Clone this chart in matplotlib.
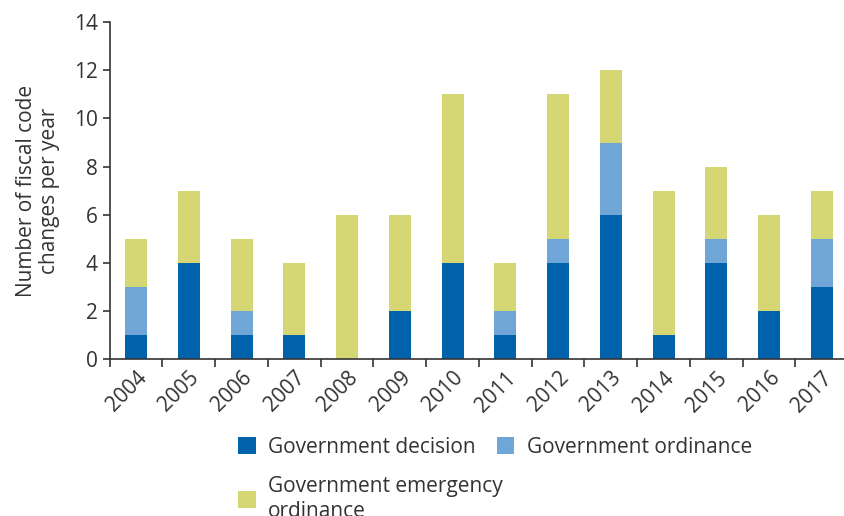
import matplotlib.pyplot as plt
import numpy as np

years = ['2004', '2005', '2006', '2007', '2008', '2009', '2010',
         '2011', '2012', '2013', '2014', '2015', '2016', '2017']
decision = [1, 4, 1, 1, 0, 2, 4, 1, 4, 6, 1, 4, 2, 3]
ordinance = [2, 0, 1, 0, 0, 0, 0, 1, 1, 3, 0, 1, 0, 2]
emergency = [2, 3, 3, 3, 6, 4, 7, 2, 6, 3, 6, 3, 4, 2]

plt.rcParams['font.family'] = ['Open Sans', 'DejaVu Sans']
text_col = '#333333'
fs = 15

fig = plt.figure(figsize=(8.44, 5.16), dpi=100)
ax = fig.add_axes([0.130, 0.304, 0.875, 0.653])

x = np.arange(len(years))
d = np.array(decision)
o = np.array(ordinance)
e = np.array(emergency)
w = 0.42
b1 = ax.bar(x, d, w, color='#0062AB', label='Government decision')
b2 = ax.bar(x, o, w, bottom=d, color='#70A5D8', label='Government ordinance')
b3 = ax.bar(x, e, w, bottom=d + o, color='#D4D774', label='Government emergency\nordinance')

ax.set_xlim(-0.5, 13.5)
ax.set_ylim(0, 14)
ax.set_yticks(range(0, 15, 2))
ax.set_xticks(np.arange(-0.5, 14, 1), minor=False)
ax.set_xticklabels([])
ax.set_xticks(x, minor=True)
ax.set_xticklabels(years, minor=True, rotation=45, ha='right', rotation_mode='anchor')
ax.tick_params(axis='x', which='minor', length=0, labelsize=fs, labelcolor=text_col, pad=6)
ax.tick_params(axis='x', which='major', length=6, color=text_col, width=1.2)
ax.tick_params(axis='y', length=5, color=text_col, width=1.2, labelsize=fs, labelcolor=text_col)

for s in ['top', 'right']:
    ax.spines[s].set_visible(False)
for s in ['left', 'bottom']:
    ax.spines[s].set_color(text_col)
    ax.spines[s].set_linewidth(1.2)

ax.set_ylabel('Number of fiscal code\nchanges per year', fontsize=fs, color=text_col,
              labelpad=10, linespacing=1.1)

leg_kw = dict(loc='upper left', frameon=False, fontsize=fs, handlelength=0.85,
              handleheight=0.85, handletextpad=0.6, columnspacing=1.0,
              labelcolor=text_col, borderaxespad=0)
fig.legend([b1, b2], [b1.get_label(), b2.get_label()], ncol=2,
           bbox_to_anchor=(0.272, 0.17), **leg_kw)
fig.legend([b3], [b3.get_label()], bbox_to_anchor=(0.272, 0.093), **leg_kw)

plt.savefig('out.png', dpi=100)
